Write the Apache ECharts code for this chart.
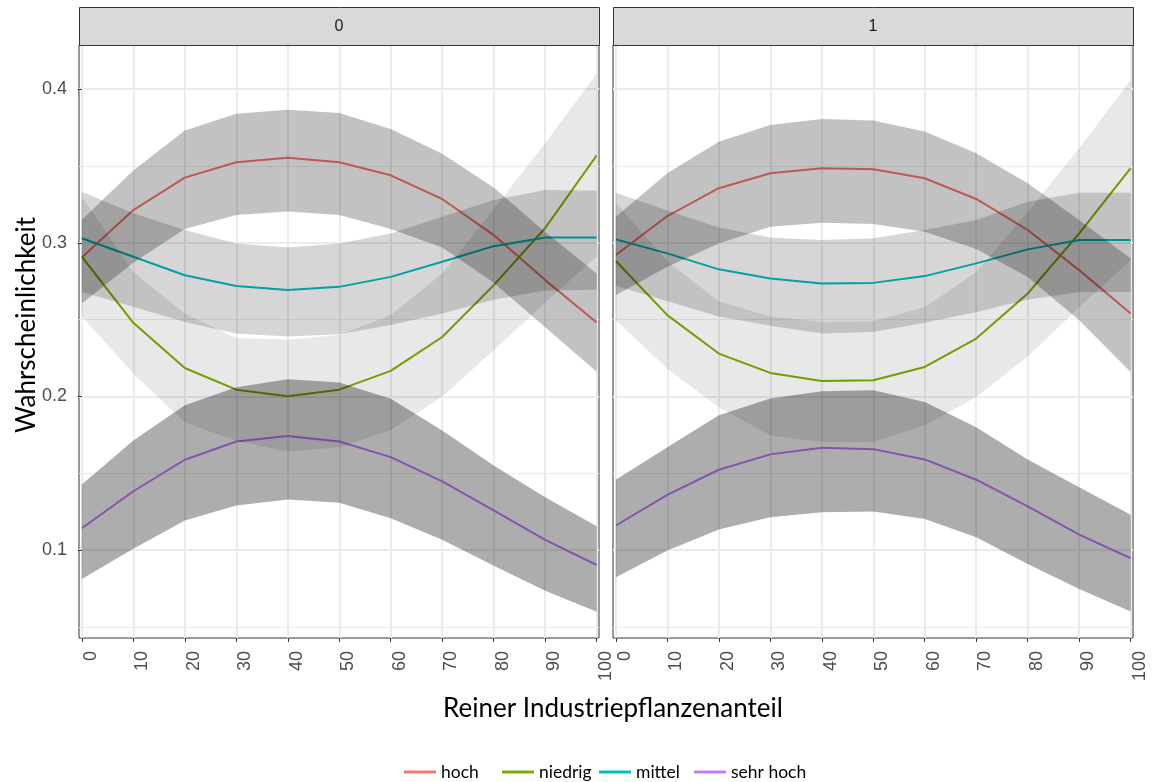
<!DOCTYPE html>
<html><head><meta charset="utf-8">
<script src="https://cdn.jsdelivr.net/npm/echarts@6/dist/echarts.min.js"></script>
<style>html,body{margin:0;padding:0;background:#fff}#c{width:1153px;height:782px}</style>
</head><body><div id="c"></div>
<script>
// ---------- data ----------
const xValues = [0, 10, 20, 30, 40, 50, 60, 70, 80, 90, 100];
const xTickLabels = [0, 10, 20, 30, 40, 50, 60, 70, 80, 90, 100];
const yTickLabels = [0.1, 0.2, 0.3, 0.4];
const yMinorBreaks = [0.05, 0.15, 0.25, 0.35];
const facetLabels = ['0', '1'];
const categories = ['hoch', 'niedrig', 'mittel', 'sehr hoch'];

// facet "0"
const hoch_0      = [0.2905, 0.3213, 0.3424, 0.3524, 0.3554, 0.3524, 0.3439, 0.3285, 0.3050, 0.2757, 0.2481];
const niedrig_0   = [0.2910, 0.2479, 0.2185, 0.2044, 0.2001, 0.2044, 0.2166, 0.2387, 0.2724, 0.3096, 0.3569];
const mittel_0    = [0.3029, 0.2909, 0.2789, 0.2718, 0.2692, 0.2713, 0.2778, 0.2876, 0.2978, 0.3035, 0.3035];
const sehrhoch_0  = [0.1142, 0.1383, 0.1588, 0.1707, 0.1742, 0.1707, 0.1605, 0.1447, 0.1258, 0.1067, 0.0903];
const hochLo_0    = [0.2605, 0.2870, 0.3090, 0.3180, 0.3204, 0.3180, 0.3090, 0.2970, 0.2740, 0.2450, 0.2160];
const hochHi_0    = [0.3150, 0.3470, 0.3730, 0.3840, 0.3865, 0.3844, 0.3740, 0.3580, 0.3360, 0.3070, 0.2800];
const niedrigLo_0 = [0.2520, 0.2150, 0.1830, 0.1710, 0.1640, 0.1670, 0.1780, 0.2000, 0.2300, 0.2610, 0.2910];
const niedrigHi_0 = [0.3300, 0.2810, 0.2540, 0.2380, 0.2370, 0.2400, 0.2530, 0.2800, 0.3220, 0.3650, 0.4100];
const mittelLo_0  = [0.2680, 0.2583, 0.2485, 0.2410, 0.2390, 0.2405, 0.2465, 0.2540, 0.2630, 0.2690, 0.2695];
const mittelHi_0  = [0.3332, 0.3192, 0.3083, 0.2996, 0.2970, 0.2996, 0.3061, 0.3170, 0.3278, 0.3343, 0.3339];
const sehrhochLo_0 = [0.0812, 0.1008, 0.1192, 0.1290, 0.1329, 0.1308, 0.1207, 0.1067, 0.0898, 0.0736, 0.0599];
const sehrhochHi_0 = [0.1427, 0.1714, 0.1942, 0.2060, 0.2112, 0.2090, 0.1985, 0.1779, 0.1550, 0.1344, 0.1155];

// facet "1"
const hoch_1      = [0.2920, 0.3174, 0.3355, 0.3452, 0.3485, 0.3478, 0.3420, 0.3285, 0.3083, 0.2822, 0.2540];
const niedrig_1   = [0.2881, 0.2529, 0.2279, 0.2153, 0.2100, 0.2105, 0.2192, 0.2377, 0.2670, 0.3061, 0.3485];
const mittel_1    = [0.3022, 0.2931, 0.2827, 0.2768, 0.2735, 0.2739, 0.2783, 0.2866, 0.2957, 0.3018, 0.3018];
const sehrhoch_1  = [0.1160, 0.1360, 0.1523, 0.1623, 0.1666, 0.1657, 0.1590, 0.1458, 0.1284, 0.1101, 0.0947];
const hochLo_1    = [0.2659, 0.2844, 0.2996, 0.3104, 0.3130, 0.3122, 0.3072, 0.2960, 0.2778, 0.2496, 0.2159];
const hochHi_1    = [0.3170, 0.3452, 0.3658, 0.3767, 0.3806, 0.3795, 0.3724, 0.3583, 0.3387, 0.3148, 0.2898];
const niedrigLo_1 = [0.2496, 0.2180, 0.1930, 0.1746, 0.1703, 0.1703, 0.1812, 0.1996, 0.2260, 0.2580, 0.2887];
const niedrigHi_1 = [0.3260, 0.2880, 0.2620, 0.2520, 0.2485, 0.2490, 0.2580, 0.2810, 0.3200, 0.3615, 0.4060];
const mittelLo_1  = [0.2720, 0.2620, 0.2520, 0.2460, 0.2410, 0.2420, 0.2480, 0.2550, 0.2630, 0.2680, 0.2680];
const mittelHi_1  = [0.3326, 0.3210, 0.3100, 0.3035, 0.3018, 0.3030, 0.3083, 0.3148, 0.3267, 0.3326, 0.3326];
const sehrhochLo_1 = [0.0823, 0.0997, 0.1134, 0.1214, 0.1247, 0.1251, 0.1203, 0.1083, 0.0910, 0.0747, 0.0601];
const sehrhochHi_1 = [0.1458, 0.1670, 0.1877, 0.1986, 0.2033, 0.2040, 0.1963, 0.1800, 0.1590, 0.1409, 0.1230];

// ---------- styling ----------
const lineColors = {'hoch': '#F8766D', 'niedrig': '#7CAE00', 'mittel': '#00BFC4', 'sehr hoch': '#C77CFF'};
const bandAlpha = {'hoch': 0.24, 'niedrig': 0.09, 'mittel': 0.16, 'sehr hoch': 0.32};

const panels = [
  {lines: [hoch_0, niedrig_0, mittel_0, sehrhoch_0],
   lo: [hochLo_0, niedrigLo_0, mittelLo_0, sehrhochLo_0],
   hi: [hochHi_0, niedrigHi_0, mittelHi_0, sehrhochHi_0]},
  {lines: [hoch_1, niedrig_1, mittel_1, sehrhoch_1],
   lo: [hochLo_1, niedrigLo_1, mittelLo_1, sehrhochLo_1],
   hi: [hochHi_1, niedrigHi_1, mittelHi_1, sehrhochHi_1]}
];

const gridLeft = [79, 613];
const gridTop = 45, gridH = 593, gridW = 520;
const yMin = 0.0428, yMax = 0.4287;
const xMin = -0.55, xMax = 100.45;

const grids = [], xAxes = [], yAxes = [], series = [];
panels.forEach((p, g) => {
  grids.push({left: gridLeft[g], top: gridTop, width: gridW, height: gridH,
    show: true, backgroundColor: '#ffffff', borderColor: '#333333', borderWidth: 1});
  xAxes.push({type: 'value', gridIndex: g, min: xMin, max: xMax,
    axisLine: {show: false},
    axisTick: {show: true, customValues: xTickLabels, length: 4, lineStyle: {color: '#333333', width: 1}},
    axisLabel: {show: true, customValues: xTickLabels, rotate: 90, margin: 13, verticalAlign: 'top',
      color: '#4d4d4d', fontSize: 18, fontFamily: 'Liberation Sans'},
    splitLine: {show: true, lineStyle: {color: '#ebebeb', width: 2}}
  });
  yAxes.push({type: 'value', gridIndex: g, min: yMin, max: yMax,
    axisLine: {show: false},
    axisTick: {show: g === 0, customValues: yTickLabels, length: 4, lineStyle: {color: '#333333', width: 1}},
    axisLabel: {show: g === 0, customValues: yTickLabels, margin: 12, color: '#4d4d4d', fontSize: 18,
      fontFamily: 'Liberation Sans', formatter: v => String(v)},
    splitLine: {show: true, lineStyle: {color: '#ebebeb', width: 2}}
  });
  yAxes.push({type: 'value', gridIndex: g, min: yMin, max: yMax,
    axisLine: {show: false},
    axisTick: {show: false, customValues: yMinorBreaks},
    axisLabel: {show: false, customValues: yMinorBreaks},
    splitLine: {show: true, lineStyle: {color: '#ebebeb', width: 1}}
  });
  // lines (drawn under the ribbons, as in the original)
  categories.forEach((c, k) => {
    series.push({type: 'line', name: c, xAxisIndex: g, yAxisIndex: 2 * g,
      data: xValues.map((x, i) => [x, p.lines[k][i]]),
      symbol: 'none', showSymbol: false, silent: true, z: 2,
      color: lineColors[c], lineStyle: {color: lineColors[c], width: 2}});
  });
  // ribbons: one polygon per band, built through the axes' coordinate conversion
  categories.forEach((c, k) => {
    const lo = p.lo[k], hi = p.hi[k];
    const rows = xValues.map((x, i) => [x, lo[i], hi[i]]);
    series.push({type: 'custom', name: 'band' + g + '_' + k, xAxisIndex: g, yAxisIndex: 2 * g,
      data: rows, encode: {x: 0, y: [1, 2]}, silent: true, z: 3, clip: true,
      renderItem: function (params, api) {
        if (params.dataIndex !== 0) return null;
        const pts = [];
        for (let i = 0; i < rows.length; i++) pts.push(api.coord([rows[i][0], rows[i][2]]));
        for (let i = rows.length - 1; i >= 0; i--) pts.push(api.coord([rows[i][0], rows[i][1]]));
        return {type: 'polygon', shape: {points: pts},
          style: {fill: 'rgba(0,0,0,' + bandAlpha[c] + ')', stroke: null}};
      }});
  });
});

const legendLeft = [404, 502, 599, 694];
const legends = categories.map((c, k) => ({
  left: legendLeft[k], top: 763, orient: 'horizontal', padding: 0,
  data: [{name: c, icon: 'rect'}], itemWidth: 32, itemHeight: 3,
  selectedMode: false,
  textStyle: {fontFamily: 'Lato', fontSize: 17.5, color: '#000000'}
}));

const graphics = [];
facetLabels.forEach((lab, g) => {
  graphics.push({type: 'rect', left: gridLeft[g], top: 7, z: 10,
    shape: {width: gridW, height: 38},
    style: {fill: '#d9d9d9', stroke: '#333333', lineWidth: 1}});
  graphics.push({type: 'text', x: gridLeft[g] + gridW / 2, y: 27, z: 11,
    style: {text: lab, fill: '#1a1a1a', font: '16px "Liberation Sans"', textAlign: 'center', textVerticalAlign: 'middle'}});
});
graphics.push({type: 'text', x: 613, y: 709, z: 11,
  style: {text: 'Reiner Industriepflanzenanteil', fill: '#000', font: '26px Lato', textAlign: 'center', textVerticalAlign: 'middle'}});
graphics.push({type: 'text', x: 27, y: 325, rotation: Math.PI / 2, z: 11,
  style: {text: 'Wahrscheinlichkeit', fill: '#000', font: '26px Lato', textAlign: 'center', textVerticalAlign: 'middle'}});

const chart = echarts.init(document.getElementById('c'), null, {renderer: 'canvas'});
chart.setOption({
  animation: false,
  backgroundColor: '#ffffff',
  grid: grids, xAxis: xAxes, yAxis: yAxes, series: series,
  legend: legends, graphic: graphics
});
</script></body></html>
